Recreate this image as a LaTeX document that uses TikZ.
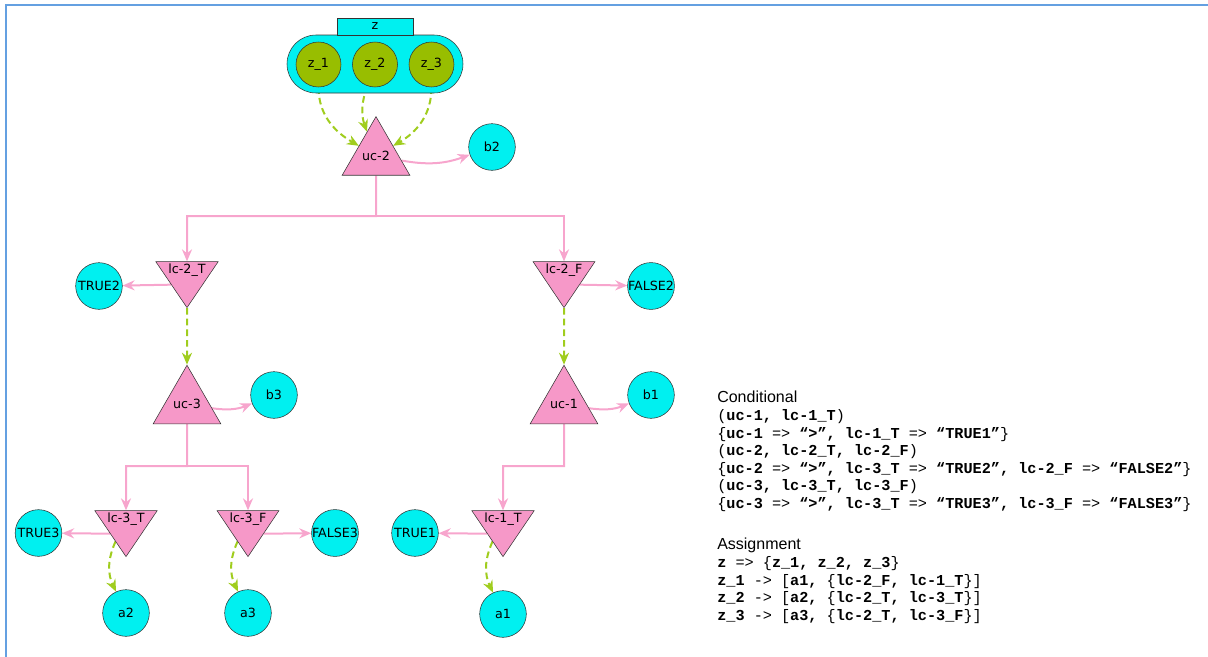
\documentclass[tikz,border=0pt]{standalone}
\usepackage{fontspec}
\setmainfont{DejaVu Sans}
\setmonofont{Liberation Mono}
\newfontfamily\headfont{Liberation Sans}
\usetikzlibrary{shapes.geometric, arrows.meta}
\pgfdeclarelayer{edgelayer}
\pgfdeclarelayer{nodelayer}
\pgfsetlayers{edgelayer,nodelayer,main}
\definecolor{varcyan}{RGB}{0,240,240}
\definecolor{leafgreen}{RGB}{152,190,0}
\definecolor{condpink}{RGB}{246,152,200}
\definecolor{linkpink}{RGB}{247,165,205}
\definecolor{dashgreen}{RGB}{160,205,30}
\definecolor{rulebl}{RGB}{100,160,225}
\newcommand{\lbl}{\fontsize{9.5}{11}\selectfont}
\tikzstyle{var}=[circle, fill=varcyan, draw=black!80, minimum size=35pt, inner sep=0pt, font=\lbl]
\tikzstyle{zvar}=[circle, fill=leafgreen, draw=black!80, minimum size=33.75pt, inner sep=0pt, font=\lbl]
\tikzstyle{ucond}=[regular polygon, regular polygon sides=3, fill=condpink, draw=black!80, minimum size=52.5pt, inner sep=0pt, font=\lbl]
\tikzstyle{lcond}=[isosceles triangle, isosceles triangle apex angle=90, isosceles triangle stretches, shape border rotate=270, fill=condpink, draw=black!80, minimum width=45pt, minimum height=34.5pt, inner sep=0pt, font=\lbl]
\tikzstyle{link}=[draw=linkpink, line width=1.5pt, -{Stealth[length=9pt, width=7.5pt]}]
\tikzstyle{flow}=[draw=dashgreen, line width=1.5pt, dash pattern=on 5pt off 3pt, -{Stealth[length=9pt, width=7.5pt]}]
\tikzstyle{bluerule}=[draw=rulebl, line width=1.5pt]

\begin{document}
\begin{tikzpicture}[x=0.75pt, y=-0.75pt]
	\useasboundingbox (0, 0) rectangle (1208, 657);
	\draw [style=bluerule] (6, 657) -- (6, 5) -- (1208, 5);
	\begin{pgfonlayer}{nodelayer}
	\node [draw=black!80, fill=varcyan, rounded corners=21.75pt, minimum width=132pt, minimum height=43.5pt] (zbox) at (375, 64) {};
	\node [draw=black!80, fill=varcyan, minimum width=57pt, minimum height=12.75pt, inner sep=0pt, font=\lbl] (ztab) at (375, 26.5) {z};
	\node [style=zvar] (z1) at (318.5, 64.5) {z\_1};
	\node [style=zvar] (z2) at (375, 64.5) {z\_2};
	\node [style=zvar] (z3) at (431.5, 64.5) {z\_3};
	\node [style=ucond] (uc2) at (376, 155.7) {uc-2};
	\node [style=var] (b2) at (492, 147) {b2};
	\node [style=lcond, anchor=apex] (lc2T) at (187, 308) {lc-2\_T};
	\node [style=lcond, anchor=apex] (lc2F) at (564, 308) {lc-2\_F};
	\node [style=var] (TRUE2) at (99, 286) {TRUE2};
	\node [style=var] (FALSE2) at (651, 286) {FALSE2};
	\node [style=ucond] (uc3) at (187, 404.3) {uc-3};
	\node [style=ucond] (uc1) at (564, 404.3) {uc-1};
	\node [style=var] (b3) at (274, 395) {b3};
	\node [style=var] (b1) at (651, 395) {b1};
	\node [style=lcond, anchor=apex] (lc3T) at (126, 557) {lc-3\_T};
	\node [style=lcond, anchor=apex] (lc3F) at (248, 557) {lc-3\_F};
	\node [style=lcond, anchor=apex] (lc1T) at (503, 557) {lc-1\_T};
	\node [style=var] (TRUE3) at (38.5, 533) {TRUE3};
	\node [style=var] (FALSE3) at (335, 533) {FALSE3};
	\node [style=var] (TRUE1) at (415, 533) {TRUE1};
	\node [style=var] (a2) at (126, 613) {a2};
	\node [style=var] (a3) at (248, 613) {a3};
	\node [style=var] (a1) at (503, 614) {a1};
	\coordinate (j2) at (376, 216);
	\coordinate (j3) at (187, 466);
	\coordinate (j1) at (564, 466);
	\end{pgfonlayer}
	\begin{pgfonlayer}{edgelayer}
	\draw [style=flow, out=270, in=150] (z1) to (uc2);
	\draw [style=flow, bend right=20] (z2) to (uc2);
	\draw [style=flow, out=270, in=30] (z3) to (uc2);
	\draw [style=link, bend right=15] (uc2) to (b2);
	\draw [style=link] (uc2.south) -- (j2) -| (lc2T);
	\draw [style=link] (j2) -| (lc2F);
	\draw [style=link] (lc2T.right side) to (TRUE2);
	\draw [style=link] (lc2F.left side) to (FALSE2);
	\draw [style=flow] (lc2T.apex) to (uc3.north);
	\draw [style=flow] (lc2F.apex) to (uc1.north);
	\draw [style=link, bend right=15] (uc3) to (b3);
	\draw [style=link, bend right=15] (uc1) to (b1);
	\draw [style=link] (uc3.south) -- (j3) -| (lc3T);
	\draw [style=link] (j3) -| (lc3F);
	\draw [style=link] (uc1.south) -- (j1) -| (lc1T);
	\draw [style=link] (lc3T.right side) to (TRUE3);
	\draw [style=link] (lc3F.left side) to (FALSE3);
	\draw [style=link] (lc1T.right side) to (TRUE1);
	\draw [style=flow, bend right=25] (lc3T) to (a2);
	\draw [style=flow, bend right=25] (lc3F) to (a3);
	\draw [style=flow, bend right=25] (lc1T) to (a1);
	\end{pgfonlayer}
	% text panel
	\node [anchor=north west, align=left, inner sep=0pt, font=\ttfamily\fontsize{11.4}{13.2}\selectfont] (condtxt) at (717, 391) {%
		{\headfont\fontsize{12}{13.2}\selectfont Conditional}\\
		(\textbf{uc-1, lc-1\_T})\\
		\{\textbf{uc-1} => \textbf{“>”, lc-1\_T} => \textbf{“TRUE1”}\}\\
		(\textbf{uc-2, lc-2\_T, lc-2\_F})\\
		\{\textbf{uc-2} => \textbf{“>”, lc-3\_T} => \textbf{“TRUE2”, lc-2\_F} => \textbf{“FALSE2”}\}\\
		(\textbf{uc-3, lc-3\_T, lc-3\_F})\\
		\{\textbf{uc-3} => \textbf{“>”, lc-3\_T} => \textbf{“TRUE3”, lc-3\_F} => \textbf{“FALSE3”}\}};
	\node [anchor=north west, align=left, inner sep=0pt, font=\ttfamily\fontsize{11.4}{13.2}\selectfont] (assigntxt) at (717, 538) {%
		{\headfont\fontsize{12}{13.2}\selectfont Assignment}\\
		\textbf{z} => \{\textbf{z\_1, z\_2, z\_3}\}\\
		\textbf{z\_1} -> [\textbf{a1,} \{\textbf{lc-2\_F, lc-1\_T}\}]\\
		\textbf{z\_2} -> [\textbf{a2,} \{\textbf{lc-2\_T, lc-3\_T}\}]\\
		\textbf{z\_3} -> [\textbf{a3,} \{\textbf{lc-2\_T, lc-3\_F}\}]};
\end{tikzpicture}
\end{document}
